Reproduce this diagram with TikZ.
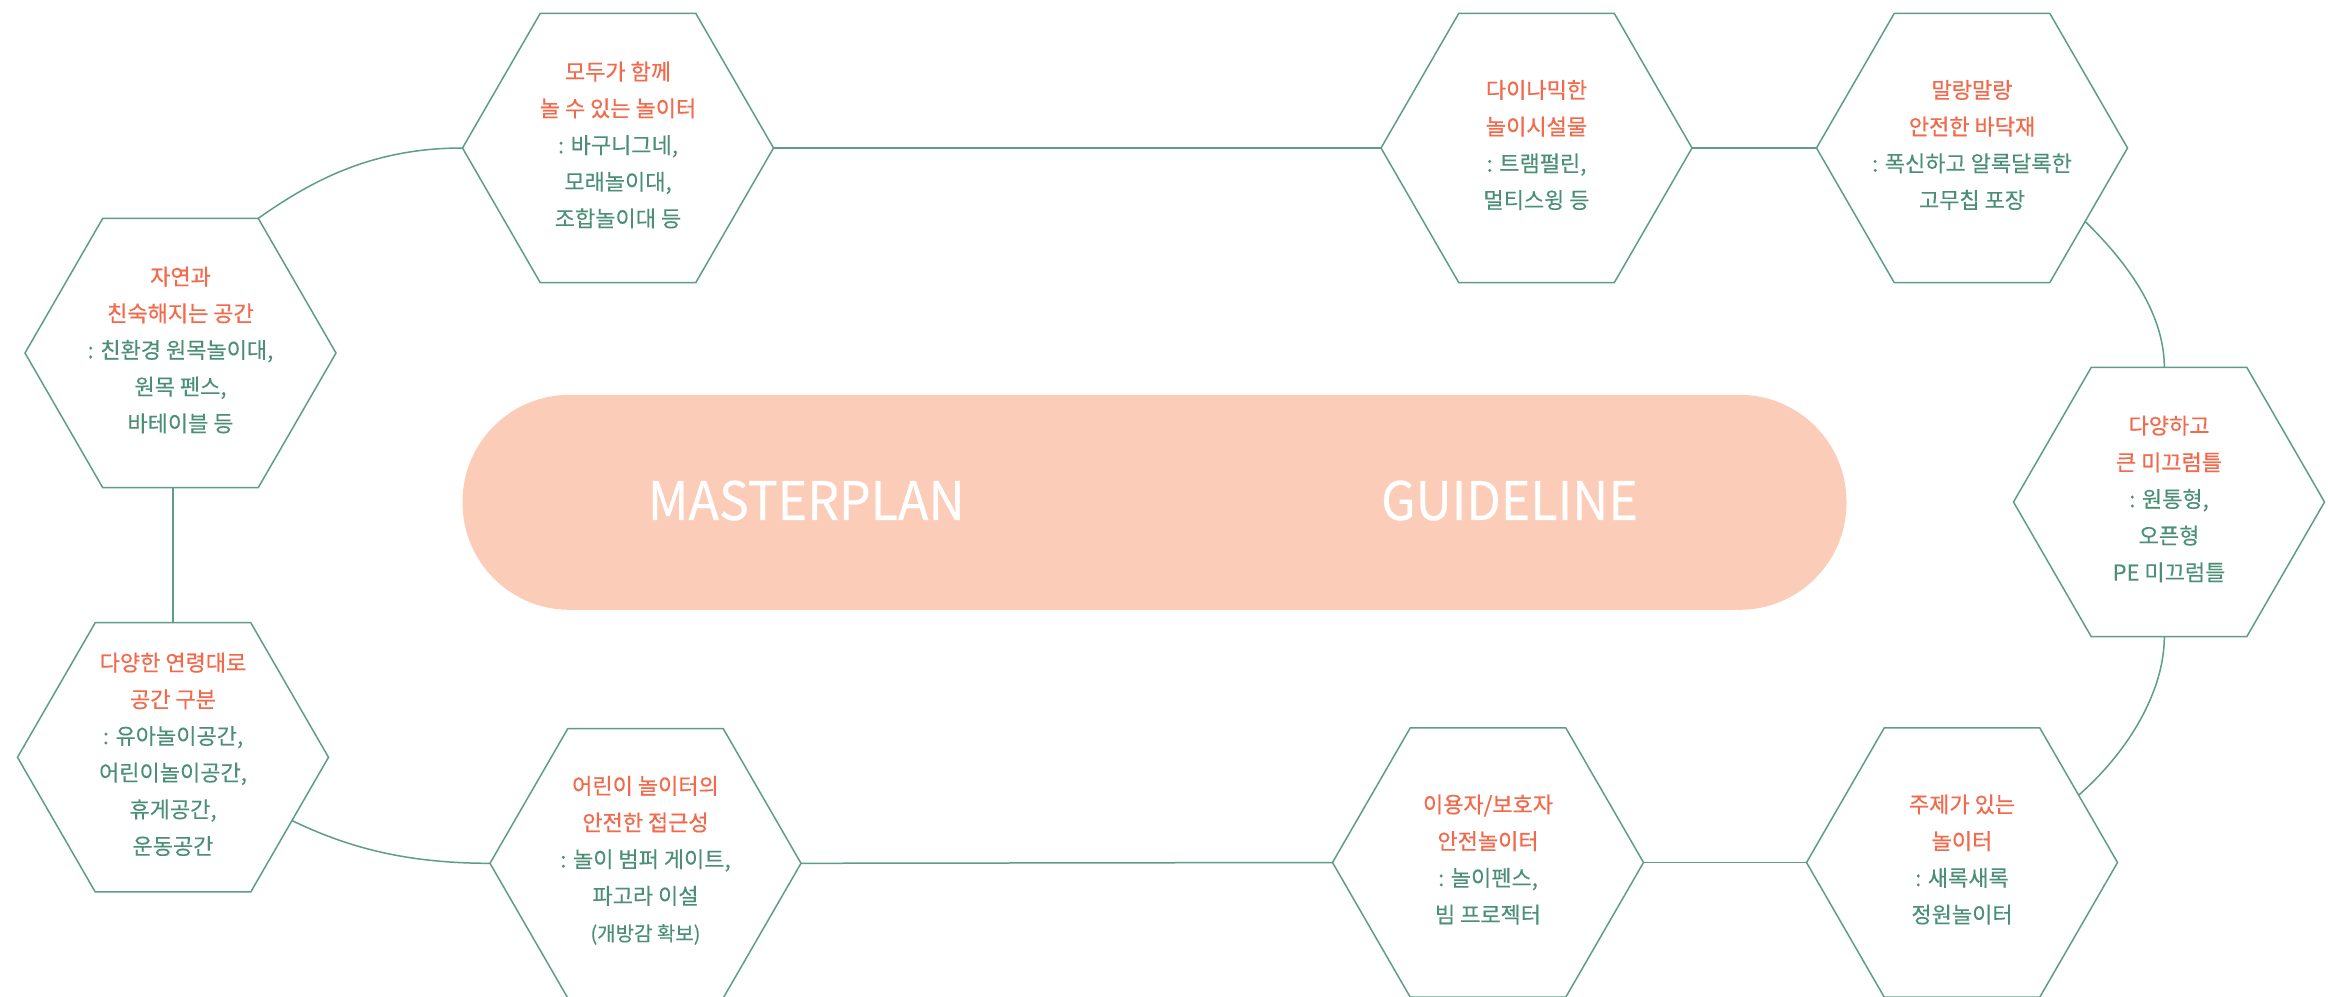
\documentclass[tikz,border=0pt]{standalone}
\usepackage{fontspec}
\setmainfont{Noto Sans CJK KR}[FakeBold=0.2]
\newfontfamily\krtitle{Noto Sans CJK KR}[FakeBold=0.6]
\newfontfamily\krbig{Noto Sans CJK KR}[FakeStretch=0.945, FakeBold=0.4]
\usetikzlibrary{shapes.geometric}
\definecolor{linec}{HTML}{5E9E88}
\definecolor{ttl}{HTML}{F26A4B}
\definecolor{bodyc}{HTML}{4A8F76}
\definecolor{pillc}{HTML}{FBCDB9}
\newcommand\ttlline[1]{{\krtitle\color{ttl}#1}}
\begin{document}
\begin{tikzpicture}[x=1pt,y=-1pt,
  hexa/.style={regular polygon, regular polygon sides=6, minimum size=311pt, inner sep=0pt, outer sep=0pt, draw=linec, line width=1.5pt},
  conn/.style={draw=linec, line width=1.5pt},
  txt/.style={align=center, text=bodyc, font=\fontsize{22pt}{36.7pt}\selectfont, inner sep=0pt, yshift=3pt},
  big/.style={text=white, font=\krbig\fontsize{53pt}{60pt}\selectfont, inner sep=0pt}]
\useasboundingbox (0,0) rectangle (2328,996);
\fill[white] (0,0) rectangle (2328,996);

% central pill
\node[fill=pillc, rounded corners=107pt, minimum width=1384pt, minimum height=215pt, inner sep=0pt] (plan) at (1154.5,502.3) {};
\node[big] (mp) at (806.3,500.5) {MASTERPLAN};
\node[big] (gl) at (1509.5,500.5) {GUIDELINE};

% hexagons
\node[hexa] (A) at (180.5,353) {};
\node[hexa] (B) at (618,148) {};
\node[hexa] (C) at (1536.5,148) {};
\node[hexa] (D) at (1972,148) {};
\node[hexa] (E) at (2169,502) {};
\node[hexa] (F) at (1962,862.5) {};
\node[hexa] (G) at (1488,862.5) {};
\node[hexa] (H) at (645.5,863.3) {};
\node[hexa] (I) at (173,757.3) {};

% texts
\node[txt] (tA) at (A) {\ttlline{자연과}\\\ttlline{친숙해지는 공간}\\: 친환경 원목놀이대,\\원목 펜스,\\바테이블 등};
\node[txt] (tB) at (B) {\ttlline{모두가 함께}\\\ttlline{놀 수 있는 놀이터}\\: 바구니그네,\\모래놀이대,\\조합놀이대 등};
\node[txt] (tC) at (C) {\ttlline{다이나믹한}\\\ttlline{놀이시설물}\\: 트램펄린,\\멀티스윙 등};
\node[txt] (tD) at (D) {\ttlline{말랑말랑}\\\ttlline{안전한 바닥재}\\: 폭신하고 알록달록한\\고무칩 포장};
\node[txt] (tE) at (E) {\ttlline{다양하고}\\\ttlline{큰 미끄럼틀}\\: 원통형,\\오픈형\\PE 미끄럼틀};
\node[txt] (tF) at (F) {\ttlline{주제가 있는}\\\ttlline{놀이터}\\: 새록새록\\정원놀이터};
\node[txt] (tG) at (G) {\ttlline{이용자/보호자}\\\ttlline{안전놀이터}\\: 놀이펜스,\\빔 프로젝터};
\node[txt] (tH) at (H) {\ttlline{어린이 놀이터의}\\\ttlline{안전한 접근성}\\: 놀이 범퍼 게이트,\\파고라 이설\\{\fontsize{20pt}{36.7pt}\selectfont (개방감 확보)}};
\node[txt] (tI) at (I) {\ttlline{다양한 연령대로}\\\ttlline{공간 구분}\\: 유아놀이공간,\\어린이놀이공간,\\휴게공간,\\운동공간};

% connectors
\draw[conn] (A.60) .. controls (310,182) and (370,148) .. (B.west);
\draw[conn] (B.east) -- (C.west);
\draw[conn] (C.east) -- (D.west);
\draw[conn] (D.-33) .. controls (2136,271) and (2164.3,320) .. (E.92);
\draw[conn] (E.268) .. controls (2164.3,690) and (2130,750) .. (F.30);
\draw[conn] (F.west) -- (G.east);
\draw[conn] (G.west) -- (H.east);
\draw[conn] (I.-28) .. controls (343,845) and (400,863.3) .. (H.west);
\draw[conn] (I.north) -- (I.north |- A.south);
\end{tikzpicture}
\end{document}
